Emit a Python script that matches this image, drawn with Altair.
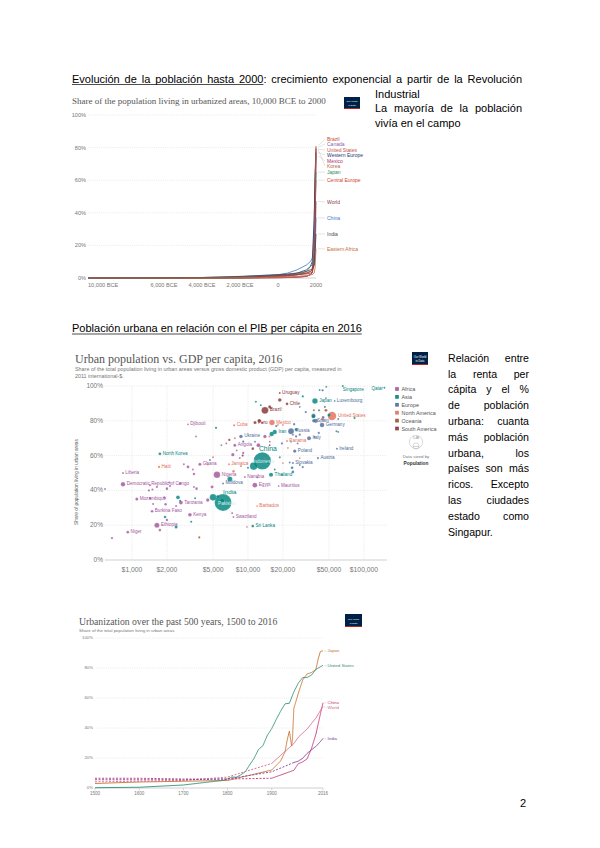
import math
import altair as alt
import pandas as pd

# ======================= DATA =======================
# ---- Chart 1: share of population living in urbanized areas (%), 10,000 BCE to 2000
c1_years = [-10000, -6000, -4000, -3000, -2000, -1000, 0, 500, 1000, 1500, 1700, 1800, 1900, 1950, 2000]
c1_brazil = [0, 0, 0, 0, 0, 0.1, 0.2, 0.3, 0.5, 1, 2, 3, 10, 36, 81]
c1_canada = [0, 0, 0, 0, 0, 0.1, 0.2, 0.3, 0.5, 1, 2, 3, 25, 61, 80]
c1_usa = [0, 0, 0, 0, 0, 0.1, 0.2, 0.3, 0.5, 1, 2, 4, 30, 64, 79]
c1_weurope = [0, 0, 0, 0.1, 0.3, 0.8, 2, 2, 3, 5, 7, 10, 35, 60, 77]
c1_mexico = [0, 0, 0.1, 0.3, 0.5, 0.8, 1.5, 2, 2.5, 3, 4, 5, 10, 40, 75]
c1_korea = [0, 0, 0, 0, 0.1, 0.3, 1, 1.5, 2, 3, 4, 5, 8, 20, 79]
c1_japan = [0, 0, 0, 0, 0.1, 0.3, 1, 1.5, 2, 4, 7, 8, 15, 40, 65]
c1_ceurope = [0, 0, 0, 0.1, 0.2, 0.5, 1, 1, 2, 3, 4, 5, 15, 40, 60]
c1_world = [0, 0.1, 0.3, 0.5, 0.7, 1, 1.5, 1.6, 2, 2.5, 3, 3.5, 8, 20, 47]
c1_china = [0, 0.1, 0.3, 0.5, 0.8, 1.5, 2, 3, 5, 8, 10, 12, 8, 12, 37]
c1_india = [0, 0.1, 0.3, 0.6, 1, 1.5, 2, 2.5, 3, 4, 5, 5.5, 8, 15, 27]
c1_eafrica = [0, 0, 0, 0, 0.1, 0.2, 0.5, 0.7, 1, 1.5, 2, 2, 3, 6, 18]
c1_names = ["Brazil", "Canada", "United States", "Western Europe", "Mexico", "Korea",
            "Japan", "Central Europe", "World", "China", "India", "Eastern Africa"]
c1_label_at = [85.3, 82.2, 78.5, 75.5, 71.8, 68.7, 65, 60, 46.6, 36.8, 27, 17.8]
c1_xticks = [-10000, -6000, -4000, -2000, 0, 2000]
c1_xtick_labels = ["10,000 BCE", "6,000 BCE", "4,000 BCE", "2,000 BCE", "0", "2000"]

# ---- Chart 2: urban population vs GDP per capita, 2016
c2_lab_names = ["Brazil", "Mexico", "Cuba", "Peru", "Djibouti", "North Korea", "Haiti", "Liberia",
                "Democratic Republic of Congo", "Mozambique", "Burkina Faso", "Ethiopia", "Niger",
                "Tanzania", "Kenya", "Ghana", "Nigeria", "Jamaica", "Moldova", "India", "Pakistan",
                "China", "Indonesia", "Ukraine", "Angola", "Namibia", "Egypt", "Thailand", "Barbados",
                "Swaziland", "Sri Lanka", "Mauritius", "Uruguay", "Chile", "Japan", "Iran", "Russia",
                "Spain", "Italy", "Panama", "Poland", "Slovakia", "Austria", "Ireland", "Germany",
                "United States", "Luxembourg", "Singapore", "Qatar"]
c2_lab_region = ["SA", "NA", "NA", "SA", "AF", "AS", "NA", "AF",
                 "AF", "AF", "AF", "AF", "AF",
                 "AF", "AF", "AF", "AF", "NA", "EU", "AS", "AS",
                 "AS", "AS", "EU", "AF", "AF", "AF", "AS", "NA",
                 "AF", "AS", "AF", "SA", "SA", "AS", "AS", "EU",
                 "EU", "EU", "NA", "EU", "EU", "EU", "EU", "EU",
                 "NA", "EU", "AS", "AS"]
c2_lab_gdp = [14000, 16100, 7600, 11500, 3040, 1740, 1710, 836,
              836, 1100, 1490, 1640, 920,
              2640, 3160, 3850, 5400, 6860, 6100, 6100, 5000,
              13300, 11200, 8700, 7700, 9400, 11460, 15800, 12000,
              7500, 11000, 18400, 18800, 21700, 37800, 17000, 23500,
              37000, 33600, 21700, 25300, 24400, 40100, 58500, 43500,
              53000, 55900, 65700, 150000]
c2_lab_urban = [86, 79, 77.4, 79, 78, 61, 53.5, 50,
                43.5, 35, 28, 20, 16,
                33, 26, 55, 49, 55, 44, 33, 36,
                57, 54, 71, 66, 47.7, 43, 49, 31,
                24.7, 19.5, 42.5, 96, 89.7, 91.4, 73.6, 74,
                80, 70, 68.4, 62.6, 55.7, 58.6, 64, 77.6,
                82.8, 91.4, 100, 99]
c2_lab_pop = [208, 127, 11, 31, 1, 25, 11, 4.6,
              79, 29, 19, 103, 21,
              56, 49, 28, 186, 3, 3.5, 1324, 193,
              1379, 261, 45, 29, 2.5, 96, 69, 0.3,
              1.3, 21, 1.3, 3.4, 18, 127, 80, 144,
              46, 60, 4, 38, 5.4, 8.7, 4.7, 82,
              323, 0.6, 5.6, 2.6]

c2_oth_region = (["AF"] * 36 + ["AS"] * 27 + ["EU"] * 31 + ["NA"] * 13 + ["SA"] * 8 + ["OC"] * 4)
c2_oth_gdp = [672, 585, 1430, 1640, 1430, 1520, 1740, 2800, 3040, 3350, 3420, 3420, 3560, 4900, 5900, 6500,
              8000, 9100, 8500, 2125, 2400, 7400, 14000, 12300, 15800, 15400, 4500, 3600, 1950, 2000, 2000,
              1900, 2100, 1400, 1500, 2600,
              1925, 2490, 2400, 3240, 6980, 5300, 11700, 12900, 14800, 17000, 19700, 29700, 36700, 47300,
              41500, 83000, 50000, 60000, 4700, 16000, 24000, 6000, 2600, 5500, 10000, 26000, 3500,
              27950, 31500, 41000, 44500, 47000, 44000, 24400, 27950, 36700, 37600, 40800, 26800, 19600,
              18800, 22900, 27950, 24400, 29700, 9100, 11500, 11500, 12000, 38500, 58000, 60000, 46000,
              25000, 26000, 23500, 17500, 14000,
              18100, 20000, 13300, 22100, 27950, 7700, 7500, 4500, 5000, 15300, 44000, 9800, 20000,
              12500, 18800, 15400, 11000, 9000, 6900, 7300, 15400,
              37000, 47000, 3800, 8700]
c2_oth_urban = [12.6, 40.8, 43, 42, 35.6, 32.2, 17.2, 55, 53.5, 52, 49.4, 42, 71, 42, 66, 67,
                63, 61.5, 58.6, 42.5, 31, 60.5, 71, 66, 87, 68, 34.5, 41, 32, 23, 41,
                36, 44.5, 40, 40.5, 44,
                24.7, 36, 19, 22, 46.6, 76, 91, 89, 56, 52, 49, 94, 82.5, 99.5,
                97.7, 81.6, 83.3, 73.6, 57.5, 72.4, 53, 34, 34, 36.5, 53, 75, 35.5,
                88, 85, 86, 82, 93, 97.5, 72, 72, 83, 70.7, 73, 67, 67,
                59, 56, 54.6, 50.6, 53.4, 68, 68, 58.5, 47.5, 80, 74, 81, 88,
                78, 71, 68, 77, 58,
                77.6, 77.6, 78.7, 64.4, 58.6, 70, 51, 55, 59, 71, 81, 19, 55.7,
                80, 92, 88, 64, 60, 69, 27, 66,
                86, 86, 13, 54]
c2_oth_pop = [11, 4.6, 5, 8, 12, 7, 18, 4, 23, 2, 15, 5, 2, 26, 2, 2,
              2, 11, 3, 8, 5, 35, 40, 56, 2, 2.3, 40, 17, 16, 14, 18,
              12, 11, 7.6, 7.4, 15,
              16, 53, 29, 8, 103, 10, 6, 4, 31, 3, 2, 8.5, 51, 4.1,
              1.4, 9, 32, 0.4, 3, 79, 18, 93, 7, 32, 6, 30, 6,
              0.4, 10, 11, 17, 0.3, 11, 2.9, 10.6, 65, 5.5, 10, 2, 7,
              7, 4, 2, 20, 10, 9.5, 3, 2.9, 3.5, 67, 8.4, 5.2, 5.7,
              11, 9.8, 2, 9.5, 0.6,
              1, 0.4, 10.6, 1, 0.3, 6.3, 16.6, 9, 6, 4.9, 36, 0.2, 0.1,
              48, 44, 31, 16, 7, 11, 0.8, 0.6,
              4.7, 24, 8, 0.9]
c2_region_codes = ["AF", "AS", "EU", "NA", "OC", "SA"]
c2_region_names = ["Africa", "Asia", "Europe", "North America", "Oceania", "South America"]
c2_region_colors = ["#a2559c", "#00847e", "#4c6a9c", "#e56e5a", "#9a5129", "#883039"]
c2_xticks = [1000, 2000, 5000, 10000, 20000, 50000, 100000]
c2_xtick_labels = ["$1,000", "$2,000", "$5,000", "$10,000", "$20,000", "$50,000", "$100,000"]

pct_ticks = [0, 20, 40, 60, 80, 100]
pct_labels = ["0%", "20%", "40%", "60%", "80%", "100%"]

# ---- Chart 3: urbanization 1500-2016 (%)
c3_us_years = [1500, 1600, 1700, 1790, 1800, 1810, 1820, 1830, 1840, 1850, 1860, 1870, 1880, 1890,
               1900, 1910, 1920, 1930, 1940, 1950, 1960, 1970, 1980, 1990, 2000, 2010, 2016]
c3_us = [0.2, 0.5, 2, 5.1, 6.1, 7.3, 7.2, 8.8, 10.8, 15.4, 19.8, 25.7, 28.2, 35.1,
         39.6, 45.6, 51.2, 56.1, 56.5, 64, 69.9, 73.6, 73.7, 75.3, 79.1, 80.8, 81.8]
c3_japan_years = [1500, 1600, 1700, 1800, 1900, 1920, 1930, 1935, 1940, 1945, 1947, 1950, 1955,
                  1960, 1970, 1980, 1990, 2000, 2005, 2010, 2016]
c3_japan = [3, 4, 4.5, 5, 12, 18, 24, 32, 38, 28, 33, 53, 58, 63, 72, 76, 77, 79, 86, 91, 91.5]
c3_years = [1500, 1600, 1700, 1800, 1900, 1950, 1960, 1970, 1980, 1990, 2000, 2010, 2016]
c3_china = [6.5, 6.5, 6, 6, 6.5, 11.8, 16.2, 17.4, 19.4, 26.4, 35.9, 49.2, 56.8]
c3_world = [4.1, 4.5, 5, 7.3, 16.4, 29.6, 33.8, 36.6, 39.3, 43, 46.7, 51.6, 54.4]
c3_india = [5.5, 5.5, 5.5, 6, 10.8, 17, 17.9, 19.8, 23.1, 25.5, 27.7, 30.9, 33.1]
c3_names = ["Japan", "United States", "China", "World", "India"]
c3_dashed_until = [None, None, 1900, 1900, 1950]
c3_label_at = [91.3, 81.3, 56.7, 53.3, 32.7]
c3_xticks = [1500, 1600, 1700, 1800, 1900, 2016]
c3_xtick_labels = ["1500", "1600", "1700", "1800", "1900", "2016"]

# ---- Page text
sec1_head = "Evolución de la población hasta 2000: crecimiento exponencial a partir de la Revolución"
sec1_head_underlined_words = 6
sec1_right = ["Industrial", "La mayoría de la población", "vivía en el campo"]
sec2_head = "Población urbana en relación con el PIB per cápita en 2016"
sec2_right = ["Relación entre", "la renta per", "cápita y el %", "de población", "urbana: cuanta",
              "más población", "urbana, los", "países son más", "ricos. Excepto", "las ciudades",
              "estado como", "Singapur."]
page_number = "2"
c1_title = "Share of the population living in urbanized areas, 10,000 BCE to 2000"
c2_title = "Urban population vs. GDP per capita, 2016"
c2_subtitle = ["Share of the total population living in urban areas versus gross domestic product (GDP) per capita, measured in",
               "2011 international-$."]
c2_ytitle = "Share of population living in urban areas"
c3_title = "Urbanization over the past 500 years, 1500 to 2016"
c3_subtitle = "Share of the total population living in urban areas"

# ======================= STYLE / LAYOUT =======================
OFF = 8
SANS = "Liberation Sans"
SERIF = "Liberation Serif"
c1_colors = ["#c8452c", "#8b5fa8", "#c9504f", "#1f3a73", "#a8326e", "#b8693b",
             "#2f8a5e", "#d1432f", "#8c3a4e", "#3d78c4", "#4a4a4a", "#c2703d"]
c3_colors = ["#c8732f", "#2f8f78", "#c8337a", "#d8668a", "#7b3f98"]
SEC2_FS = 10.6

def P(v):
    return v - OFF

ARIAL = {' ': 278, '.': 278, ',': 278, ':': 278, ';': 278, '%': 889, '$': 556, '-': 333,
         'a': 556, 'b': 556, 'c': 500, 'd': 556, 'e': 556, 'f': 278, 'g': 556, 'h': 556, 'i': 222,
         'j': 222, 'k': 500, 'l': 222, 'm': 833, 'n': 556, 'o': 556, 'p': 556, 'q': 556, 'r': 333,
         's': 500, 't': 278, 'u': 556, 'v': 500, 'w': 722, 'x': 500, 'y': 500, 'z': 500,
         'á': 556, 'é': 556, 'í': 278, 'ó': 556, 'ú': 556, 'ñ': 556,
         'A': 667, 'B': 667, 'C': 722, 'D': 722, 'E': 667, 'F': 611, 'G': 778, 'H': 722, 'I': 278,
         'J': 500, 'K': 667, 'L': 556, 'M': 833, 'N': 722, 'O': 778, 'P': 667, 'Q': 778, 'R': 722,
         'S': 667, 'T': 611, 'U': 722, 'V': 667, 'W': 944, 'X': 667, 'Y': 667, 'Z': 611}

def tw(s, size):
    return sum(ARIAL.get(ch, 556) for ch in s) * size / 1000.0

def justify(line, x0, x1, y, size):
    words = line.split(" ")
    if len(words) == 1:
        return [(x0, y, line)]
    total = sum(tw(w, size) for w in words)
    gap = (x1 - x0 - total) / (len(words) - 1)
    out, x = [], x0
    for w in words:
        out.append((x, y, w))
        x += tw(w, size) + gap
    return out

def text_layer(rows, size, color="#000", font=SANS, align="left", baseline="alphabetic",
               weight="normal", angle=None):
    df = pd.DataFrame(rows, columns=["x", "y", "t"])
    df["x"] = df["x"] - OFF
    df["y"] = df["y"] - OFF
    kw = dict(font=font, fontSize=size, color=color, align=align, baseline=baseline, fontWeight=weight)
    if angle is not None:
        kw["angle"] = angle
    return alt.Chart(df).mark_text(**kw).encode(
        x=alt.X("x:Q", scale=None, axis=None),
        y=alt.Y("y:Q", scale=None, axis=None),
        text=alt.Text("t:N"))

def hrule_layer(rows, color, width, dash=None):
    df = pd.DataFrame(rows, columns=["x", "x2", "y"]) - OFF
    kw = dict(color=color, strokeWidth=width)
    if dash:
        kw["strokeDash"] = dash
    return alt.Chart(df).mark_rule(**kw).encode(
        x=alt.X("x:Q", scale=None, axis=None), x2="x2:Q",
        y=alt.Y("y:Q", scale=None, axis=None))

def rect_layer(rows, color):
    df = pd.DataFrame(rows, columns=["x", "x2", "y", "y2"]) - OFF
    return alt.Chart(df).mark_rect(color=color).encode(
        x=alt.X("x:Q", scale=None, axis=None), x2="x2:Q",
        y=alt.Y("y:Q", scale=None, axis=None), y2="y2:Q")

def owid_logo(x0, y0, x1, y1, fs):
    cx = (x0 + x1) / 2.0
    h = y1 - y0
    return [rect_layer([(x0, x1, y0, y1)], "#002147"),
            rect_layer([(x0, x1, y1 - 0.9, y1)], "#ce261e"),
            text_layer([(cx, y0 + h * 0.38, "Our World"), (cx, y0 + h * 0.68, "in Data")],
                       fs, "#ffffff", align="center", baseline="middle")]

def lin_scale(domain, r0, r1, typ="linear"):
    return alt.Scale(type=typ, domain=domain, range=[P(r0), P(r1)], nice=False, zero=False)

layers = []

# ======================= PAGE TEXT =======================
head_rows = justify(sec1_head, 72, 522, 82.5, 11)
u_word = head_rows[sec1_head_underlined_words - 1]
u_end = u_word[0] + tw(u_word[2].rstrip(":"), 11)
body11 = head_rows + [(375, 97.5, sec1_right[0])] + justify(sec1_right[1], 375, 522, 112, 11) + \
    [(375, 126.5, sec1_right[2])] + [(72, 332, sec2_head)]
layers.append(text_layer(body11, 11))
layers.append(hrule_layer([(72, u_end, 84.5), (72, 72 + tw(sec2_head, 11), 334)], "#000", 0.7))
body10 = []
for i, line in enumerate(sec2_right):
    yb = 361.8 + i * 15.8
    if i == len(sec2_right) - 1:
        body10.append((448, yb, line))
    else:
        body10 += justify(line, 448, 529, yb, SEC2_FS)
layers.append(text_layer(body10, SEC2_FS))
layers.append(text_layer([(523, 807, page_number)], 11, align="center"))

# ======================= CHART 1 =======================
X1 = lin_scale([-10000, 2000], 88, 316)
Y1 = lin_scale([0, 100], 278, 115)
layers.append(text_layer([(72, 104, c1_title)], 9, "#555", font=SERIF))
layers += owid_logo(344, 97, 360, 109, 2.4)
g1 = pd.DataFrame({"v": pct_ticks[1:]})
layers.append(alt.Chart(g1).mark_rule(color="#d4d4d4", strokeWidth=0.5, strokeDash=[1, 1.2]).encode(
    y=alt.Y("v:Q", scale=Y1, axis=None), x=alt.value(P(88)), x2=alt.value(P(316))))
layers.append(alt.Chart(pd.DataFrame({"v": [0]})).mark_rule(color="#b0b0b0", strokeWidth=0.6).encode(
    y=alt.Y("v:Q", scale=Y1, axis=None), x=alt.value(P(88)), x2=alt.value(P(316))))
layers.append(alt.Chart(pd.DataFrame({"v": pct_ticks, "t": pct_labels})).mark_text(
    font=SANS, fontSize=5.6, color="#777", align="right", baseline="middle").encode(
    y=alt.Y("v:Q", scale=Y1, axis=None), x=alt.value(P(86)), text="t:N"))
xt1 = pd.DataFrame({"v": c1_xticks, "t": c1_xtick_labels})
layers.append(alt.Chart(xt1.iloc[:1]).mark_text(
    font=SANS, fontSize=5.6, color="#777", align="left", baseline="middle").encode(
    x=alt.X("v:Q", scale=X1, axis=None), y=alt.value(P(285)), text="t:N"))
layers.append(alt.Chart(xt1.iloc[1:]).mark_text(
    font=SANS, fontSize=5.6, color="#777", align="center", baseline="middle").encode(
    x=alt.X("v:Q", scale=X1, axis=None), y=alt.value(P(285)), text="t:N"))
c1_series = [c1_brazil, c1_canada, c1_usa, c1_weurope, c1_mexico, c1_korea, c1_japan,
             c1_ceurope, c1_world, c1_china, c1_india, c1_eafrica]
rows = []
for name, vals in zip(c1_names, c1_series):
    for yv, v in zip(c1_years, vals):
        rows.append({"series": name, "year": yv, "value": v})
d1 = pd.DataFrame(rows)
C1 = alt.Scale(domain=c1_names, range=c1_colors)
layers.append(alt.Chart(d1).mark_line(strokeWidth=0.8).encode(
    x=alt.X("year:Q", scale=X1, axis=None), y=alt.Y("value:Q", scale=Y1, axis=None),
    color=alt.Color("series:N", scale=C1, legend=None)))
l1 = pd.DataFrame({"series": c1_names, "end": [s[-1] for s in c1_series], "lab": c1_label_at})
layers.append(alt.Chart(l1).mark_rule(color="#bbbbbb", strokeWidth=0.4).encode(
    x=alt.value(P(318)), x2=alt.value(P(325)),
    y=alt.Y("end:Q", scale=Y1, axis=None), y2="lab:Q"))
layers.append(alt.Chart(l1).mark_text(font=SANS, fontSize=5, align="left", baseline="middle").encode(
    x=alt.value(P(327)), y=alt.Y("lab:Q", scale=Y1, axis=None), text="series:N",
    color=alt.Color("series:N", scale=C1, legend=None)))

# ======================= CHART 2 =======================
X2_DOM = [585, 158000]
X2_R = (105, 387)
X2 = lin_scale(X2_DOM, X2_R[0], X2_R[1], typ="log")
Y2 = lin_scale([0, 100], 560, 386)
PPD2 = (X2_R[1] - X2_R[0]) / (math.log10(X2_DOM[1]) - math.log10(X2_DOM[0]))
PPU2 = (560 - 386) / 100.0
RC = alt.Scale(domain=c2_region_names, range=c2_region_colors)
code2name = dict(zip(c2_region_codes, c2_region_names))

layers.append(text_layer([(75, 362.5, c2_title)], 12, "#555", font=SERIF))
layers.append(text_layer([(75, 370.5, c2_subtitle[0]), (75, 377.5, c2_subtitle[1])], 5.4, "#777"))
layers += owid_logo(412, 352, 428, 365, 2.8)
g2 = pd.DataFrame({"v": pct_ticks[1:]})
layers.append(alt.Chart(g2).mark_rule(color="#d4d4d4", strokeWidth=0.5, strokeDash=[1, 1.2]).encode(
    y=alt.Y("v:Q", scale=Y2, axis=None), x=alt.value(P(105)), x2=alt.value(P(387))))
layers.append(alt.Chart(pd.DataFrame({"v": c2_xticks})).mark_rule(
    color="#d4d4d4", strokeWidth=0.5, strokeDash=[1, 1.2]).encode(
    x=alt.X("v:Q", scale=X2, axis=None), y=alt.value(P(386)), y2=alt.value(P(560))))
layers.append(alt.Chart(pd.DataFrame({"v": [0]})).mark_rule(color="#b0b0b0", strokeWidth=0.6).encode(
    y=alt.Y("v:Q", scale=Y2, axis=None), x=alt.value(P(105)), x2=alt.value(P(387))))
layers.append(alt.Chart(pd.DataFrame({"v": pct_ticks, "t": pct_labels})).mark_text(
    font=SANS, fontSize=6.5, color="#777", align="right", baseline="middle").encode(
    y=alt.Y("v:Q", scale=Y2, axis=None), x=alt.value(P(103)), text="t:N"))
layers.append(alt.Chart(pd.DataFrame({"v": c2_xticks, "t": c2_xtick_labels})).mark_text(
    font=SANS, fontSize=6.8, color="#777", align="center", baseline="middle").encode(
    x=alt.X("v:Q", scale=X2, axis=None), y=alt.value(P(570)), text="t:N"))
layers.append(text_layer([(77, 482, c2_ytitle)], 4.8, "#666", align="center", baseline="middle", angle=270))

pts = pd.DataFrame({
    "name": c2_lab_names + [""] * len(c2_oth_gdp),
    "region": [code2name[c] for c in c2_lab_region + c2_oth_region],
    "gdp": c2_lab_gdp + c2_oth_gdp,
    "urban": c2_lab_urban + c2_oth_urban,
    "pop": c2_lab_pop + c2_oth_pop})
SIZE_DOM, SIZE_R = [0, 1400], [3, 303]
layers.append(alt.Chart(pts).mark_circle(opacity=0.82, stroke="white", strokeWidth=0.15).encode(
    x=alt.X("gdp:Q", scale=X2, axis=None), y=alt.Y("urban:Q", scale=Y2, axis=None),
    color=alt.Color("region:N", scale=RC, legend=None),
    size=alt.Size("pop:Q", scale=alt.Scale(domain=SIZE_DOM, range=SIZE_R), legend=None),
    order=alt.Order("pop:Q", sort="descending")))

lab_offsets = {"China": (-3.4, -11.5), "India": (0, -10.5), "Pakistan": (5, 6.5),
               "Indonesia": (-1, -5.5), "Singapore": (0, 4), "Qatar": (-13, 1)}
lab_fs = {"China": 6.8, "India": 6.2, "Indonesia": 5.0}
on_blob = {"Indonesia", "Pakistan"}
lab_rows, blob_rows = [], []
for n, rg, g, u, p in zip(c2_lab_names, c2_lab_region, c2_lab_gdp, c2_lab_urban, c2_lab_pop):
    area = SIZE_R[0] + p / SIZE_DOM[1] * (SIZE_R[1] - SIZE_R[0])
    r = math.sqrt(area / math.pi)
    dx, dy = lab_offsets.get(n, (r + 1.2, 0))
    row = {"name": n, "region": code2name[rg], "lx": g * 10 ** (dx / PPD2), "ly": u - dy / PPU2,
           "fs": lab_fs.get(n, 4.6)}
    (blob_rows if n in on_blob else lab_rows).append(row)
layers.append(alt.Chart(pd.DataFrame(lab_rows)).mark_text(font=SANS, align="left", baseline="middle").encode(
    x=alt.X("lx:Q", scale=X2, axis=None), y=alt.Y("ly:Q", scale=Y2, axis=None),
    text="name:N", size=alt.Size("fs:Q", scale=None, legend=None),
    color=alt.Color("region:N", scale=RC, legend=None)))
layers.append(alt.Chart(pd.DataFrame(blob_rows)).mark_text(
    font=SANS, align="left", baseline="middle", color="#d9efec").encode(
    x=alt.X("lx:Q", scale=X2, axis=None), y=alt.Y("ly:Q", scale=Y2, axis=None),
    text="name:N", size=alt.Size("fs:Q", scale=None, legend=None)))

# legend
leg = pd.DataFrame({"region": c2_region_names,
                    "x": [P(397)] * 6, "y": [P(389 + i * 7.9) for i in range(6)],
                    "tx": [P(401.5)] * 6})
layers.append(alt.Chart(leg).mark_square(size=14, opacity=0.9).encode(
    x=alt.X("x:Q", scale=None, axis=None), y=alt.Y("y:Q", scale=None, axis=None),
    color=alt.Color("region:N", scale=RC, legend=None)))
layers.append(alt.Chart(leg).mark_text(font=SANS, fontSize=5.4, color="#555", align="left",
                                        baseline="middle").encode(
    x=alt.X("tx:Q", scale=None, axis=None), y=alt.Y("y:Q", scale=None, axis=None), text="region:N"))
one = pd.DataFrame({"a": [0]})
layers.append(alt.Chart(one).mark_point(shape="circle", filled=False, size=177, color="#999",
                                         strokeWidth=0.5).encode(x=alt.value(P(416)), y=alt.value(P(442))))
layers.append(alt.Chart(one).mark_point(shape="circle", filled=False, size=38, color="#999",
                                         strokeWidth=0.5).encode(x=alt.value(P(416)), y=alt.value(P(446))))
layers.append(text_layer([(416, 438.2, "1.4B")], 3.0, "#777", align="center", baseline="middle"))
layers.append(text_layer([(416, 446.2, "100M")], 2.2, "#777", align="center", baseline="middle"))
layers.append(text_layer([(416, 456.5, "Data sized by")], 4.4, "#777", align="center", baseline="middle"))
layers.append(text_layer([(416, 463.5, "Population")], 4.8, "#333", align="center", baseline="middle",
                         weight="bold"))

# ======================= CHART 3 =======================
X3 = lin_scale([1500, 2016], 95, 323)
Y3 = lin_scale([0, 100], 788, 638)
layers.append(text_layer([(79, 625, c3_title)], 9.7, "#555", font=SERIF))
layers.append(text_layer([(79, 631.5, c3_subtitle)], 4.4, "#777"))
layers += owid_logo(345, 614, 362, 627, 2.4)
g3 = pd.DataFrame({"v": pct_ticks[1:]})
layers.append(alt.Chart(g3).mark_rule(color="#d4d4d4", strokeWidth=0.5, strokeDash=[1, 1.2]).encode(
    y=alt.Y("v:Q", scale=Y3, axis=None), x=alt.value(P(97)), x2=alt.value(P(323))))
layers.append(alt.Chart(pd.DataFrame({"v": [0]})).mark_rule(color="#b0b0b0", strokeWidth=0.6).encode(
    y=alt.Y("v:Q", scale=Y3, axis=None), x=alt.value(P(95)), x2=alt.value(P(323))))
layers.append(alt.Chart(pd.DataFrame({"v": c3_xticks})).mark_rule(color="#b0b0b0", strokeWidth=0.5).encode(
    x=alt.X("v:Q", scale=X3, axis=None), y=alt.value(P(788)), y2=alt.value(P(790.5))))
layers.append(alt.Chart(pd.DataFrame({"v": pct_ticks, "t": pct_labels})).mark_text(
    font=SANS, fontSize=4.3, color="#777", align="right", baseline="middle").encode(
    y=alt.Y("v:Q", scale=Y3, axis=None), x=alt.value(P(93)), text="t:N"))
layers.append(alt.Chart(pd.DataFrame({"v": c3_xticks, "t": c3_xtick_labels})).mark_text(
    font=SANS, fontSize=4.5, color="#777", align="center", baseline="middle").encode(
    x=alt.X("v:Q", scale=X3, axis=None), y=alt.value(P(794)), text="t:N"))
c3_series = [(c3_japan_years, c3_japan), (c3_us_years, c3_us), (c3_years, c3_china),
             (c3_years, c3_world), (c3_years, c3_india)]
rows = []
for name, (yrs, vals), cut in zip(c3_names, c3_series, c3_dashed_until):
    for yv, v in zip(yrs, vals):
        if cut is None or yv >= cut:
            rows.append({"series": name, "year": yv, "value": v, "seg": "s"})
        if cut is not None and yv <= cut:
            rows.append({"series": name, "year": yv, "value": v, "seg": "d"})
d3 = pd.DataFrame(rows)
C3 = alt.Scale(domain=c3_names, range=c3_colors)
layers.append(alt.Chart(d3).mark_line(strokeWidth=0.9).encode(
    x=alt.X("year:Q", scale=X3, axis=None), y=alt.Y("value:Q", scale=Y3, axis=None),
    color=alt.Color("series:N", scale=C3, legend=None),
    strokeDash=alt.StrokeDash("seg:N", scale=alt.Scale(domain=["d", "s"], range=[[2, 1.5], [1, 0]]),
                              legend=None)))
l3 = pd.DataFrame({"series": c3_names, "end": [s[1][-1] for s in c3_series], "lab": c3_label_at})
layers.append(alt.Chart(l3).mark_rule(color="#bbbbbb", strokeWidth=0.4).encode(
    x=alt.value(P(324)), x2=alt.value(P(326.5)),
    y=alt.Y("end:Q", scale=Y3, axis=None), y2="lab:Q"))
layers.append(alt.Chart(l3).mark_text(font=SANS, fontSize=4.4, align="left", baseline="middle").encode(
    x=alt.value(P(327.5)), y=alt.Y("lab:Q", scale=Y3, axis=None), text="series:N",
    color=alt.Color("series:N", scale=C3, legend=None)))

# ======================= ASSEMBLE =======================
chart = alt.layer(*layers).resolve_scale(
    x="independent", y="independent", color="independent", size="independent",
    strokeDash="independent"
).properties(
    width=584, height=832, padding=0, background="white",
    autosize=alt.AutoSizeParams(type="none")
).configure_view(stroke=None)

chart.save("out.html", embed_options={"renderer": "svg", "actions": False})
